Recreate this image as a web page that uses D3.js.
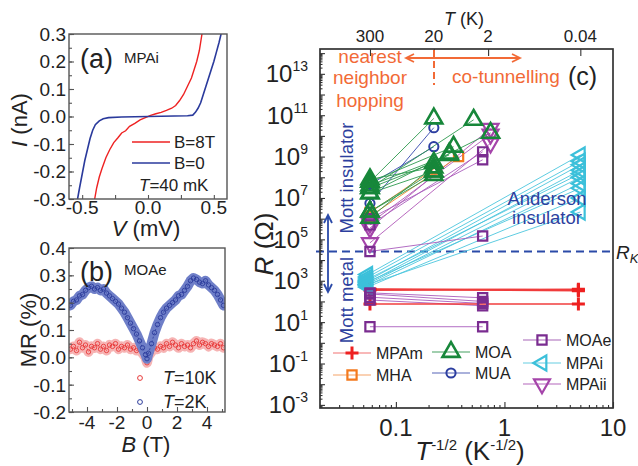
<!DOCTYPE html>
<html>
<head>
<meta charset="utf-8">
<script src="https://cdn.jsdelivr.net/npm/d3@7"></script>
<style>
body { margin: 0; background: #fff; }
svg { font-family: "Liberation Sans", Arial, sans-serif; }
</style>
</head>
<body>
<svg width="638" height="466"></svg>
<script>
'use strict';

// ---- panel (a): I-V curves of MPAi at 40 mK, [V (mV), I (nA)]
const ivB8T = [[-0.405,-0.3],[-0.39,-0.26],[-0.37,-0.22],[-0.35,-0.19],[-0.32,-0.15],[-0.29,-0.12],
  [-0.26,-0.095],[-0.23,-0.078],[-0.2,-0.06],[-0.17,-0.052],[-0.14,-0.036],[-0.1,-0.025],[-0.06,-0.012],
  [-0.02,-0.004],[0.02,0.004],[0.06,0.01],[0.1,0.015],[0.14,0.022],[0.18,0.03],[0.21,0.04],[0.24,0.058],
  [0.27,0.08],[0.3,0.11],[0.33,0.14],[0.35,0.17],[0.37,0.2],[0.39,0.24],[0.41,0.3]];
const ivB0 = [[-0.535,-0.3],[-0.52,-0.26],[-0.5,-0.21],[-0.48,-0.16],[-0.46,-0.12],[-0.44,-0.08],
  [-0.42,-0.05],[-0.4,-0.03],[-0.37,-0.016],[-0.34,-0.008],[-0.3,-0.004],[-0.2,-0.002],[-0.1,-0.001],
  [0,0],[0.1,0.001],[0.2,0.002],[0.3,0.003],[0.34,0.005],[0.36,0.015],[0.38,0.03],[0.4,0.05],[0.42,0.08],
  [0.44,0.11],[0.46,0.14],[0.48,0.17],[0.5,0.2],[0.52,0.235],[0.54,0.27],[0.555,0.3]];
const ivXTicks = [-0.5, 0.0, 0.5];
const ivYTicks = [-0.3, -0.2, -0.1, 0.0, 0.1, 0.2, 0.3];

// ---- panel (b): MR of MOAe
const mrField = [-5.1,-4.9,-4.7,-4.5,-4.3,-4.1,-3.9,-3.7,-3.5,-3.3,-3.1,-2.9,-2.7,-2.5,-2.3,-2.1,-1.9,
  -1.7,-1.5,-1.3,-1.1,-0.9,-0.7,-0.5,-0.3,-0.1,0,0.1,0.3,0.5,0.7,0.9,1.1,1.3,1.5,1.7,1.9,2.1,2.3,2.5,
  2.7,2.9,3.1,3.3,3.5,3.7,3.9,4.1,4.3,4.5,4.7,4.9,5.1];
const mr2K = [0.19,0.205,0.21,0.225,0.23,0.245,0.255,0.26,0.25,0.255,0.245,0.25,0.235,0.225,0.215,
  0.205,0.195,0.18,0.165,0.145,0.125,0.105,0.085,0.06,0.035,0.01,-0.005,0.015,0.05,0.09,0.12,0.145,
  0.165,0.18,0.19,0.2,0.21,0.225,0.23,0.245,0.26,0.28,0.29,0.285,0.275,0.27,0.28,0.265,0.255,0.245,
  0.23,0.21,0.19];
const mr10K = [0.03,0.04,0.025,0.055,0.035,0.045,0.02,0.04,0.035,0.05,0.03,0.04,0.025,0.045,0.04,
  0.05,0.03,0.04,0.035,0.045,0.03,0.035,0.025,0.03,0.015,0.0,-0.02,0.005,0.02,0.035,0.03,0.04,0.035,
  0.05,0.04,0.055,0.045,0.035,0.05,0.04,0.045,0.035,0.05,0.06,0.045,0.055,0.05,0.04,0.05,0.045,0.04,
  0.05,0.035];
const mrXTicks = [-4, -2, 0, 2, 4];
const mrYTicks = [-0.2, -0.1, 0.0, 0.1, 0.2, 0.3, 0.4];

// ---- panel (c): R vs T^-1/2, each entry = [[x1, R1], [x2, R2]]
const mpam = [[[0.0577,400],[4.8,360]],[[0.0577,380],[4.8,330]],[[0.0577,350],[4.8,390]],
  [[0.0577,76],[4.8,76]]];
const mha = [[[0.0577,1.3e6],[0.378,1e9]],[[0.0577,2e6],[0.2236,2.5e8]]];
const moa = [[[0.0577,6e7],[0.2236,7e10]],[[0.0577,3e7],[0.2236,5e8]],[[0.0577,1.7e7],[0.2236,1.9e8]],
  [[0.0577,2.2e6],[0.2236,1.3e8]],[[0.0577,1.1e6],[0.31,1.4e9]],[[0.0577,6e7],[0.34,3e9]],
  [[0.0577,3e7],[0.52,6e10]],[[0.0577,1.7e7],[0.745,1.4e10]],[[0.0577,2.2e6],[0.2236,1.9e8]],
  [[0.0577,8e7],[0.2236,3e8]],[[0.0577,4e7],[0.31,1.2e9]]];
const mua = [[[0.0577,5.5e6],[0.2236,2.5e10]],[[0.0577,4.5e7],[0.2236,3e9]]];
const moae = [[[0.0577,2.6e4],[0.63,1.45e5]],[[0.0577,5e5],[0.63,1.7e9]],[[0.0577,1e6],[0.63,7e8]],
  [[0.0577,260],[0.63,150]],[[0.0577,117],[0.63,62]],[[0.0577,160],[0.63,80]],[[0.0577,230],[0.63,100]],
  [[0.0577,6],[0.63,6]]];
const mpai = [[[0.055,2000],[5,1.2e9]],[[0.055,1500],[5,6e8]],[[0.055,1000],[5,4e8]],
  [[0.055,800],[5,2.2e8]],[[0.055,1200],[5,1.5e8]],[[0.055,700],[5,1e8]],[[0.055,600],[5,5e7]],
  [[0.055,900],[5,3e7]],[[0.055,500],[5,1e7]],[[0.055,650],[5,2.1e6]]];
const mpaii = [[[0.0577,3.5e5],[0.745,2.3e10]],[[0.0577,6.8e4],[0.745,4.4e9]],[[0.0577,6e5],[0.745,1.2e10]]];
const rK = 25813;
const tempTicks = [300, 20, 2, 0.04];
const rExpTicks = [-3, -1, 1, 3, 5, 7, 9, 11, 13];
const xCTicks = [0.1, 1, 10];

const svg = d3.select('svg');
const ink = '#222';
const frameCol = '#555';

function tickAxis(gen, scale, values, size, tx, ty, col) {
  svg.append('g').attr('transform', `translate(${tx},${ty})`)
    .call(gen(scale).tickValues(values).tickSize(size).tickFormat(''))
    .call(g => g.select('.domain').remove())
    .selectAll('line').attr('stroke', col || frameCol).attr('stroke-width', 1.1);
}

function frame(x0, y0, x1, y1, col, w) {
  svg.append('rect').attr('x', x0).attr('y', y0).attr('width', x1 - x0).attr('height', y1 - y0)
    .attr('fill', 'none').attr('stroke', col || frameCol).attr('stroke-width', w || 1.4);
}

function clip(id, x0, y0, x1, y1) {
  svg.append('clipPath').attr('id', id).append('rect')
    .attr('x', x0).attr('y', y0).attr('width', x1 - x0).attr('height', y1 - y0);
}

// =============== panel (a)
const xA = d3.scaleLinear().domain([-0.6, 0.6]).range([69, 227]);
const yA = d3.scaleLinear().domain([-0.3, 0.3]).range([199, 34]);
clip('clipA', 69, 34, 227, 199);

const lineA = d3.line().x(d => xA(d[0])).y(d => yA(d[1]));
const gA = svg.append('g').attr('clip-path', 'url(#clipA)');
gA.append('path').attr('d', lineA(ivB8T)).attr('fill', 'none').attr('stroke', '#ee2222').attr('stroke-width', 1.4);
gA.append('path').attr('d', lineA(ivB0)).attr('fill', 'none').attr('stroke', '#2a3a9c').attr('stroke-width', 1.6);

tickAxis(d3.axisBottom, xA, [-0.5, -0.25, 0, 0.25, 0.5], -4, 0, 199);
tickAxis(d3.axisLeft, yA, d3.range(-0.3, 0.301, 0.05), -3, 69, 0);
tickAxis(d3.axisLeft, yA, ivYTicks, -5, 69, 0);
frame(69, 34, 227, 199);

svg.append('g').selectAll('text').data(ivYTicks).enter().append('text')
  .attr('x', 66).attr('y', d => yA(d)).attr('dy', '0.36em').attr('text-anchor', 'end')
  .attr('font-size', 19).attr('fill', ink).text(d => d.toFixed(1));
svg.append('g').selectAll('text').data(ivXTicks).enter().append('text')
  .attr('x', d => xA(d)).attr('y', 214).attr('text-anchor', 'middle')
  .attr('font-size', 19).attr('fill', ink).text(d => d.toFixed(1));

svg.append('text').attr('x', 80).attr('y', 68).attr('font-size', 27).attr('fill', ink).text('(a)');
svg.append('text').attr('x', 124).attr('y', 63).attr('font-size', 15).attr('fill', ink).text('MPAi');
svg.append('line').attr('x1', 132).attr('x2', 170).attr('y1', 142).attr('y2', 142).attr('stroke', '#ee2222').attr('stroke-width', 1.4);
svg.append('line').attr('x1', 132).attr('x2', 170).attr('y1', 163).attr('y2', 163).attr('stroke', '#2a3a9c').attr('stroke-width', 1.6);
svg.append('text').attr('x', 174).attr('y', 148).attr('font-size', 17).attr('fill', ink).text('B=8T');
svg.append('text').attr('x', 174).attr('y', 169).attr('font-size', 17).attr('fill', ink).text('B=0');
const t40 = svg.append('text').attr('x', 139).attr('y', 191).attr('font-size', 17).attr('fill', ink);
t40.append('tspan').attr('font-style', 'italic').text('T');
t40.append('tspan').text('=40 mK');

const tI = svg.append('text').attr('transform', 'translate(27,120) rotate(-90)')
  .attr('text-anchor', 'middle').attr('font-size', 22).attr('fill', ink);
tI.append('tspan').attr('font-style', 'italic').text('I');
tI.append('tspan').text(' (nA)');
const tV = svg.append('text').attr('x', 146).attr('y', 236).attr('text-anchor', 'middle')
  .attr('font-size', 22).attr('fill', ink);
tV.append('tspan').attr('font-style', 'italic').text('V');
tV.append('tspan').text(' (mV)');

// =============== panel (b)
const xB = d3.scaleLinear().domain([-5.2, 5.2]).range([69, 225]);
const yB = d3.scaleLinear().domain([-0.2, 0.4]).range([412, 248]);
clip('clipB', 69, 248, 225, 412);

const lineB = vals => d3.line().x((d, i) => xB(mrField[i])).y(d => yB(d))(vals);
const gB = svg.append('g').attr('clip-path', 'url(#clipB)');
function band(vals, light, dark, w) {
  gB.append('path').attr('d', lineB(vals)).attr('fill', 'none').attr('stroke', light)
    .attr('stroke-width', w).attr('stroke-linejoin', 'round').attr('stroke-linecap', 'round');
  gB.append('path').attr('d', lineB(vals)).attr('fill', 'none').attr('stroke', dark)
    .attr('stroke-width', 1).attr('stroke-dasharray', '2,2').attr('opacity', 0.8);
  gB.append('g').selectAll('circle').data(vals).enter().append('circle')
    .attr('cx', (d, i) => xB(mrField[i])).attr('cy', d => yB(d)).attr('r', 2.2)
    .attr('fill', 'none').attr('stroke', dark).attr('stroke-width', 0.9);
}
band(mr10K, '#f6b4b4', '#e83a3a', 10);
band(mr2K, '#6f7fc8', '#2c3c9c', 10);

tickAxis(d3.axisBottom, xB, [-5, -3, -1, 1, 3, 5], -3, 0, 412);
tickAxis(d3.axisBottom, xB, mrXTicks, -5, 0, 412);
tickAxis(d3.axisLeft, yB, d3.range(-0.2, 0.401, 0.05), -3, 69, 0);
tickAxis(d3.axisLeft, yB, mrYTicks, -5, 69, 0);
frame(69, 248, 225, 412);

svg.append('g').selectAll('text').data(mrYTicks).enter().append('text')
  .attr('x', 66).attr('y', d => yB(d)).attr('dy', '0.36em').attr('text-anchor', 'end')
  .attr('font-size', 19).attr('fill', ink).text(d => d.toFixed(1));
svg.append('g').selectAll('text').data(mrXTicks).enter().append('text')
  .attr('x', d => xB(d)).attr('y', 429).attr('text-anchor', 'middle')
  .attr('font-size', 19).attr('fill', ink).text(d => d);

svg.append('text').attr('x', 80).attr('y', 281).attr('font-size', 27).attr('fill', ink).text('(b)');
svg.append('text').attr('x', 124).attr('y', 275).attr('font-size', 15).attr('fill', ink).text('MOAe');
svg.append('circle').attr('cx', 140).attr('cy', 378).attr('r', 2.4).attr('fill', 'none').attr('stroke', '#e83a3a');
svg.append('circle').attr('cx', 140).attr('cy', 402).attr('r', 2.4).attr('fill', 'none').attr('stroke', '#2c3c9c');
[['=10K', 384], ['=2K', 408]].forEach(([s, y]) => {
  const t = svg.append('text').attr('x', 163).attr('y', y).attr('font-size', 18).attr('fill', ink);
  t.append('tspan').attr('font-style', 'italic').text('T');
  t.append('tspan').text(s);
});
svg.append('text').attr('transform', 'translate(36,330) rotate(-90)')
  .attr('text-anchor', 'middle').attr('font-size', 22).attr('fill', ink).text('MR (%)');
const tB = svg.append('text').attr('x', 146).attr('y', 452).attr('text-anchor', 'middle')
  .attr('font-size', 22).attr('fill', ink);
tB.append('tspan').attr('font-style', 'italic').text('B');
tB.append('tspan').text(' (T)');

// =============== panel (c)
const xC = d3.scaleLog().domain([0.02, 10]).range([320, 613]);
const yC = d3.scaleLog().domain([Math.pow(10, -3.15), Math.pow(10, 14.2)]).range([408, 49]);

function markPath(type, s) {
  if (type === 'plus') return `M${-s},0H${s}M0,${-s}V${s}`;
  if (type === 'square') return `M${-s},${-s}H${s}V${s}H${-s}Z`;
  if (type === 'circle') return `M${s},0A${s},${s} 0 1,1 ${-s},0A${s},${s} 0 1,1 ${s},0`;
  const a = s * 0.577, b = s * 0.289, h = s / 2;
  if (type === 'up') return `M0,${-a}L${h},${b}L${-h},${b}Z`;
  if (type === 'down') return `M0,${a}L${h},${-b}L${-h},${-b}Z`;
  if (type === 'left') return `M${-a},0L${b},${h}L${b},${-h}Z`;
}

const seriesC = [
  { name: 'MPAi', data: mpai, color: '#3cc0da', line: '#4cc6de', mark: 'left', size: 15, sw: 2.2 },
  { name: 'MOAe', data: moae, color: '#7a2c90', line: '#a95cbc', mark: 'square', size: 4.6, sw: 2.2 },
  { name: 'MPAii', data: mpaii, color: '#a544aa', line: '#b058b8', mark: 'down', size: 16, sw: 2.2 },
  { name: 'MHA', data: mha, color: '#f47a1e', line: '#f4862c', mark: 'square', size: 4.6, sw: 2.2 },
  { name: 'MUA', data: mua, color: '#2c3ea0', line: '#3446ae', mark: 'circle', size: 4.6, sw: 2 },
  { name: 'MOA', data: moa, color: '#17873a', line: '#2e9a4e', mark: 'up', size: 17, sw: 2.6 },
  { name: 'MPAm', data: mpam, color: '#ee2020', line: '#f03c3c', mark: 'plus', size: 6.5, sw: 3 }
];

// R_K dashed line
svg.append('line').attr('x1', 316).attr('x2', 613).attr('y1', yC(rK)).attr('y2', yC(rK))
  .attr('stroke', '#2b4aa8').attr('stroke-width', 2).attr('stroke-dasharray', '8,5');

seriesC.forEach(s => {
  svg.append('g').selectAll('line').data(s.data).enter().append('line')
    .attr('x1', d => xC(d[0][0])).attr('y1', d => yC(d[0][1]))
    .attr('x2', d => xC(d[1][0])).attr('y2', d => yC(d[1][1]))
    .attr('stroke', s.line).attr('stroke-width', s.name === 'MPAm' ? 1.5 : 0.9);
});
['MPAm', 'MPAi', 'MHA', 'MUA', 'MPAii', 'MOAe', 'MOA'].forEach(n => {
  const s = seriesC.find(q => q.name === n);
  const pts = s.data.flat();
  svg.append('g').selectAll('path').data(pts).enter().append('path')
    .attr('transform', d => `translate(${xC(d[0])},${yC(d[1])})`)
    .attr('d', markPath(s.mark, s.size)).attr('fill', 'none')
    .attr('stroke', s.color).attr('stroke-width', s.sw);
});

// axes of (c)
const axC = '#333';
const minorX = [];
[0.01, 0.1, 1].forEach(dec => d3.range(1, 10).forEach(k => {
  const v = dec * k;
  if (v >= 0.02 && v <= 10 && k !== 1) minorX.push(v);
}));
const minorY = [];
d3.range(-4, 15).forEach(e => d3.range(2, 10).forEach(k => {
  const v = k * Math.pow(10, e);
  if (v > Math.pow(10, -3.15) && v < Math.pow(10, 14.2)) minorY.push(v);
}));
tickAxis(d3.axisBottom, xC, minorX, -3, 0, 408, axC);
tickAxis(d3.axisBottom, xC, xCTicks, -6, 0, 408, axC);
tickAxis(d3.axisLeft, yC, minorY, -2.5, 320, 0, axC);
tickAxis(d3.axisLeft, yC, d3.range(-3, 15).map(e => Math.pow(10, e)), -5, 320, 0, axC);
tickAxis(d3.axisTop, xC, tempTicks.map(t => 1 / Math.sqrt(t)), -7, 0, 49, axC);
frame(320, 49, 613, 408, axC, 1.7);

svg.append('g').selectAll('text').data(xCTicks).enter().append('text')
  .attr('x', d => xC(d)).attr('y', 436).attr('text-anchor', 'middle')
  .attr('font-size', 24).attr('fill', ink).text(d => d);
const yLab = svg.append('g').selectAll('text').data(rExpTicks).enter().append('text')
  .attr('x', 308).attr('y', d => yC(Math.pow(10, d)) + 8.5).attr('text-anchor', 'end')
  .attr('font-size', 24).attr('fill', ink);
yLab.append('tspan').text('10');
yLab.append('tspan').attr('font-size', 14).attr('dy', -11).text(d => d);
svg.append('g').selectAll('text').data(tempTicks).enter().append('text')
  .attr('x', d => xC(1 / Math.sqrt(d))).attr('y', 42).attr('text-anchor', 'middle')
  .attr('font-size', 17).attr('fill', ink).text(d => d);

const tT = svg.append('text').attr('x', 444).attr('y', 25).attr('font-size', 18).attr('fill', ink);
tT.append('tspan').attr('font-style', 'italic').text('T');
tT.append('tspan').text(' (K)');

const tR = svg.append('text').attr('transform', 'translate(273,244) rotate(-90)')
  .attr('text-anchor', 'middle').attr('font-size', 26).attr('fill', ink);
tR.append('tspan').attr('font-style', 'italic').text('R');
tR.append('tspan').text(' (Ω)');

const tX = svg.append('text').attr('x', 470).attr('y', 460).attr('text-anchor', 'middle')
  .attr('font-size', 26).attr('fill', ink);
tX.append('tspan').attr('font-style', 'italic').text('T');
tX.append('tspan').attr('font-size', 15).attr('dy', -10).text('-1/2');
tX.append('tspan').attr('dy', 10).text(' (K');
tX.append('tspan').attr('font-size', 15).attr('dy', -10).text('-1/2');
tX.append('tspan').attr('dy', 10).text(')');

// annotations
const orange = '#f26a36';
const blueTxt = '#2d3f9e';
[['nearest', 63], ['neighbor', 84], ['hopping', 107]].forEach(([s, y]) => {
  svg.append('text').attr('x', 370).attr('y', y).attr('text-anchor', 'middle')
    .attr('font-size', 19).attr('fill', orange).text(s);
});
svg.append('text').attr('x', 452).attr('y', 83).attr('font-size', 19).attr('fill', orange).text('co-tunnelling');
svg.append('text').attr('x', 568).attr('y', 85).attr('font-size', 25).attr('fill', ink).text('(c)');
svg.append('path').attr('d', 'M406,58H520M414,54L406,58L414,62M512,54L520,58L512,62')
  .attr('fill', 'none').attr('stroke', orange).attr('stroke-width', 1.8);
svg.append('line').attr('x1', 434).attr('x2', 434).attr('y1', 50).attr('y2', 85)
  .attr('stroke', orange).attr('stroke-width', 2).attr('stroke-dasharray', '7,4');

svg.append('text').attr('transform', 'translate(353,178) rotate(-90)').attr('text-anchor', 'middle')
  .attr('font-size', 18.5).attr('fill', blueTxt).text('Mott insulator');
svg.append('text').attr('transform', 'translate(353,300) rotate(-90)').attr('text-anchor', 'middle')
  .attr('font-size', 18.5).attr('fill', blueTxt).text('Mott metal');
svg.append('path').attr('d', 'M328,215V292M324,223L328,215L332,223M324,284L328,292L332,284')
  .attr('fill', 'none').attr('stroke', '#2b4aa8').attr('stroke-width', 1.8);
svg.append('text').attr('x', 547).attr('y', 205).attr('text-anchor', 'middle')
  .attr('font-size', 18.5).attr('fill', blueTxt).text('Anderson');
svg.append('text').attr('x', 547).attr('y', 224).attr('text-anchor', 'middle')
  .attr('font-size', 18.5).attr('fill', blueTxt).text('insulator');

const tRK = svg.append('text').attr('x', 616).attr('y', yC(rK) + 7).attr('font-size', 19).attr('fill', ink);
tRK.append('tspan').attr('font-style', 'italic').text('R');
tRK.append('tspan').attr('font-style', 'italic').attr('font-size', 13).attr('dy', 4).text('K');
tRK.append('tspan').attr('dy', -4).text('·');

// legend of (c)
const legendPos = [
  ['MPAm', 333, 353, '#f27272'], ['MHA', 333, 375, '#f6a468'],
  ['MOA', 432, 352, '#45a060'], ['MUA', 432, 373, '#5664b8'],
  ['MOAe', 523, 340, '#a866b8'], ['MPAi', 523, 363, '#66cde2'], ['MPAii', 523, 384, '#b466bc']
];
legendPos.forEach(([n, x, y, lc]) => {
  const s = seriesC.find(q => q.name === n);
  svg.append('line').attr('x1', x).attr('x2', x + 38).attr('y1', y).attr('y2', y)
    .attr('stroke', lc).attr('stroke-width', 1.2);
  svg.append('path').attr('transform', `translate(${x + 19},${y})`)
    .attr('d', markPath(s.mark, s.size)).attr('fill', 'none')
    .attr('stroke', s.color).attr('stroke-width', s.sw);
  svg.append('text').attr('x', x + 43).attr('y', y).attr('dy', '0.36em')
    .attr('font-size', 16).attr('fill', ink).text(n);
});
</script>
</body>
</html>
